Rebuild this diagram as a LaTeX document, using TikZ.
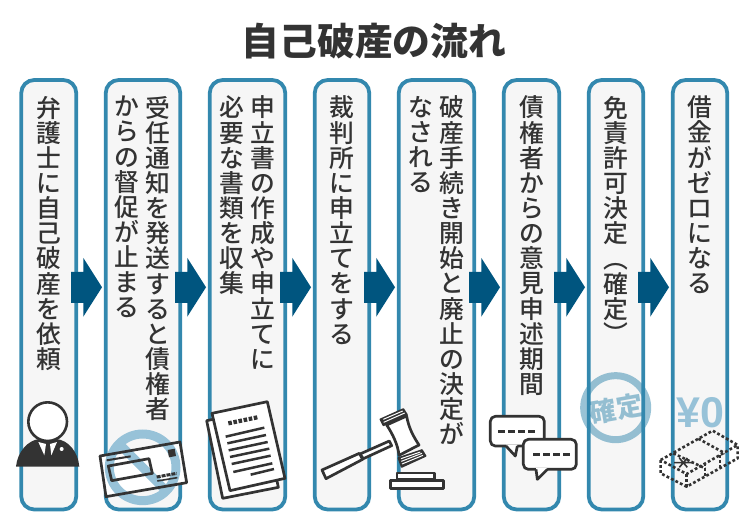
\documentclass[tikz,border=0pt]{standalone}
\usepackage{fontspec}
\usepackage{graphicx}
\usetikzlibrary{calc}
\newfontfamily\jp{Noto Sans CJK JP}
\newfontfamily\jpm{Noto Sans CJK JP Medium}
\newfontfamily\latinb{Liberation Sans}
\definecolor{ink}{HTML}{333333}
\definecolor{frame}{HTML}{3388AE}
\definecolor{panel}{HTML}{F6F6F6}
\definecolor{arrowblue}{HTML}{00557F}
\definecolor{pale}{HTML}{97C2D8}
\newcommand{\blockarrow}[2]{%
  \fill[arrowblue] ($(#1.east)+(-5.25,-23)$) -- ($(#1.east)+(7,-23)$) -- ($(#1.east)+(7,-37)$)
    -- ($(#2.west)+(-3.75,-7.5)$) -- ($(#1.east)+(7,22)$) -- ($(#1.east)+(7,8)$) -- ($(#1.east)+(-5.25,8)$) -- cycle;}
\tikzset{
  x=1pt,y=-1pt,
  stepbox/.style={draw=frame,fill=panel,line width=3.8pt,rounded corners=13pt,minimum height=429.5pt,outer sep=0pt,inner sep=0pt},
  vcol/.style={anchor=north,inner sep=0pt,outer sep=0pt,align=center,text=ink,font=\jpm\fontsize{24.8}{25.15}\selectfont},
  icon/.style={draw=ink,line width=2.7pt,line join=round},
  iconfill/.style={icon,fill=white},
  notedash/.style={draw=ink,line width=2.6pt,line join=round,dash pattern=on 2.8pt off 2.2pt},
  chatdash/.style={draw=ink,line width=3.6pt,dash pattern=on 7pt off 3pt},
}
\begin{document}
\begin{tikzpicture}
\useasboundingbox (0,0) rectangle (750,530);
\node[inner sep=0pt,text=ink,font=\jp\bfseries\fontsize{37.8}{40}\selectfont] (title) at (374,41) {自己破産の流れ};
% boxes
\node[stepbox,minimum width=55pt] (b1) at (48.75,294.75) {};
\node[stepbox,minimum width=74.5pt] (b2) at (143,294.75) {};
\node[stepbox,minimum width=75.5pt] (b3) at (247.5,294.75) {};
\node[stepbox,minimum width=54.5pt] (b4) at (342,294.75) {};
\node[stepbox,minimum width=75.5pt] (b5) at (436.5,294.75) {};
\node[stepbox,minimum width=55.5pt] (b6) at (531.5,294.75) {};
\node[stepbox,minimum width=54.5pt] (b7) at (616,294.75) {};
\node[stepbox,minimum width=54.5pt] (b8) at (700,294.75) {};
% text columns
\node[vcol] (t1) at (48.5,96) {弁\\護\\士\\に\\自\\己\\破\\産\\を\\依\\頼};
\node[vcol] (t2r) at (158,96) {受\\任\\通\\知\\を\\発\\送\\す\\る\\と\\債\\権\\者};
\node[vcol] (t2l) at (127,96) {か\\ら\\の\\督\\促\\が\\止\\ま\\る};
\node[vcol] (t3r) at (263,96) {申\\立\\書\\の\\作\\成\\や\\申\\立\\て\\に};
\node[vcol] (t3l) at (232,96) {必\\要\\な\\書\\類\\を\\収\\集};
\node[vcol] (t4) at (342,96) {裁\\判\\所\\に\\申\\立\\て\\を\\す\\る};
\node[vcol] (t5r) at (451.5,96) {破\\産\\手\\続\\き\\開\\始\\と\\廃\\止\\の\\決\\定\\が};
\node[vcol] (t5l) at (421,96) {な\\さ\\れ\\る};
\node[vcol] (t6) at (532,96) {債\\権\\者\\か\\ら\\の\\意\\見\\申\\述\\期\\間};
\node[vcol] (t7) at (616,96) {免\\責\\許\\可\\決\\定\\\rotatebox[origin=c]{-90}{（}\\確\\定\\\rotatebox[origin=c]{-90}{）}};
\node[vcol] (t8) at (700,96) {借\\金\\が\\ゼ\\ロ\\に\\な\\る};
% arrows
\blockarrow{b1}{b2}
\blockarrow{b2}{b3}
\blockarrow{b3}{b4}
\blockarrow{b4}{b5}
\blockarrow{b5}{b6}
\blockarrow{b6}{b7}
\blockarrow{b7}{b8}
% icons in 3x zoom coordinates
\begin{scope}[shift={(0,380)},x=0.33333pt,y=-0.33333pt]
  % person
  \fill[ink] (48,260) .. controls (52,215) and (85,180) .. (118,177) -- (168,177)
     .. controls (205,180) and (234,215) .. (238,260) -- cycle;
  \draw[ink,line width=2.6pt,fill=white] (143,125) circle (58);
  \fill[white] (115,186) -- (138,192) -- (133,226) -- cycle;
  \fill[white] (171,186) -- (150,192) -- (154,226) -- cycle;
  \fill[white] (185,207) circle (6);
  % envelope
  \fill[white] (300,228) -- (540,186) -- (560,308) -- (318,350) -- cycle;
  \draw[pale,line width=9pt] (428,262) circle (100);
  \draw[pale,line width=9pt] (357,191) -- (499,333);
  \draw[icon] (300,228) -- (540,186) -- (560,308) -- (318,350) -- cycle;
  \draw[icon] (325,258) -- (447,236) -- (457,280) -- (335,302) -- cycle;
  \draw[ink,line width=2pt] (320,241) -- (392,229);
  \fill[ink] (503,210) -- (524,206) -- (528,228) -- (507,232) -- cycle;
  \draw[ink,line width=3pt,dash pattern=on 4pt off 1pt] (470,291) -- (530,280);
  \draw[ink,line width=1.6pt] (472,303) -- (532,293);
  % documents
  \draw[iconfill] (620,122) -- (786,87) -- (835,322) -- (668,355) -- cycle;
  \draw[iconfill] (636,100) -- (802,65) -- (855,295) -- (690,332) -- cycle;
  \draw[ink,line width=4.2pt,dash pattern=on 3.6pt off 1.6pt] (685,130) -- (772,112);
  \foreach \xa/\ya/\xb/\yb in {677/170/793/143,682/190/798/165,686/211/803/186,690/231/808/206,695/252/812/227,700/276/817/250,752/284/822/267}
    \draw[ink,line width=2.5pt] (\xa,\ya) -- (\xb,\yb);
\end{scope}
\begin{scope}[shift={(300,380)},x=0.33333pt,y=-0.33333pt]
  % gavel
  \draw[iconfill] (180,222) -- (268,183) -- (275,197) -- (190,236) -- cycle;
  \draw[iconfill] (66,270) -- (178,220) -- (188,238) -- (78,296) -- cycle;
  \draw[iconfill] (260,135) -- (320,108)
     .. controls (326,145) and (342,172) .. (357,195)
     -- (297,226)
     .. controls (294,195) and (278,162) .. (260,135) -- cycle;
  \draw[ink,fill=ink,line width=1.6pt,line join=round] (241,118) -- (310,87) -- (321,104) -- (250,136) -- cycle;
  \draw[white,line width=1pt] (250,118) -- (308,93) (251,127) -- (314,99);
  \draw[ink,fill=ink,line width=1.6pt,line join=round] (295,234) -- (366,210) -- (377,228) -- (305,261) -- cycle;
  \draw[white,line width=1pt] (303,236) -- (361,216) (304,244) -- (366,220) (306,252) -- (369,226);
  \draw[iconfill] (291,279) rectangle (404,299);
  \draw[iconfill] (271,301) rectangle (431,326);
  % speech bubbles
  \draw[iconfill,rounded corners=5pt] (571,109) -- (733,109) -- (733,198) -- (571,198) -- cycle;
  \fill[white] (618,194) -- (646,228) -- (652,194) -- cycle;
  \draw[icon] (618,198) -- (646,228) -- (652,198);
  \draw[chatdash] (595,154) -- (705,154);
  \draw[iconfill,rounded corners=5pt] (670,178) -- (829,178) -- (829,268) -- (670,268) -- cycle;
  \fill[white] (708,264) -- (712,298) -- (742,264) -- cycle;
  \draw[icon] (708,268) -- (712,298) -- (742,268);
  \draw[chatdash] (699,223) -- (809,223);
\end{scope}
\begin{scope}[shift={(570,360)},x=0.33333pt,y=-0.33333pt]
  % stamp
  \draw[frame,opacity=0.5,line width=7pt] (137,143) circle (96);
  \node[rotate=10,inner sep=0pt,text=frame,opacity=0.5,font=\jp\bfseries\fontsize{26.5}{28}\selectfont] (stamp) at (139,146) {確定};
  % yen
  \node[inner sep=0pt,text=pale,font=\latinb\bfseries\fontsize{43}{45}\selectfont] (yen) at (392,157) {¥0};
  % banknotes
  \draw[notedash] (272,300) -- (428,212) -- (503,255) -- (350,342) -- cycle;
  \draw[notedash] (272,300) -- (272,340) -- (350,380) -- (503,295) -- (503,255);
  \draw[notedash] (350,342) -- (350,380);
  \draw[notedash] (385,236) -- (465,280);
  \draw[notedash] (310,280) -- (405,325);
  \draw[notedash] (405,310) -- (405,348);
  \draw[notedash] (450,285) -- (450,325);
  \draw[ink,line width=1.6pt] (312,308) -- (368,308) (328,294) -- (352,322) (352,294) -- (328,322);
\end{scope}
\end{tikzpicture}
\end{document}
